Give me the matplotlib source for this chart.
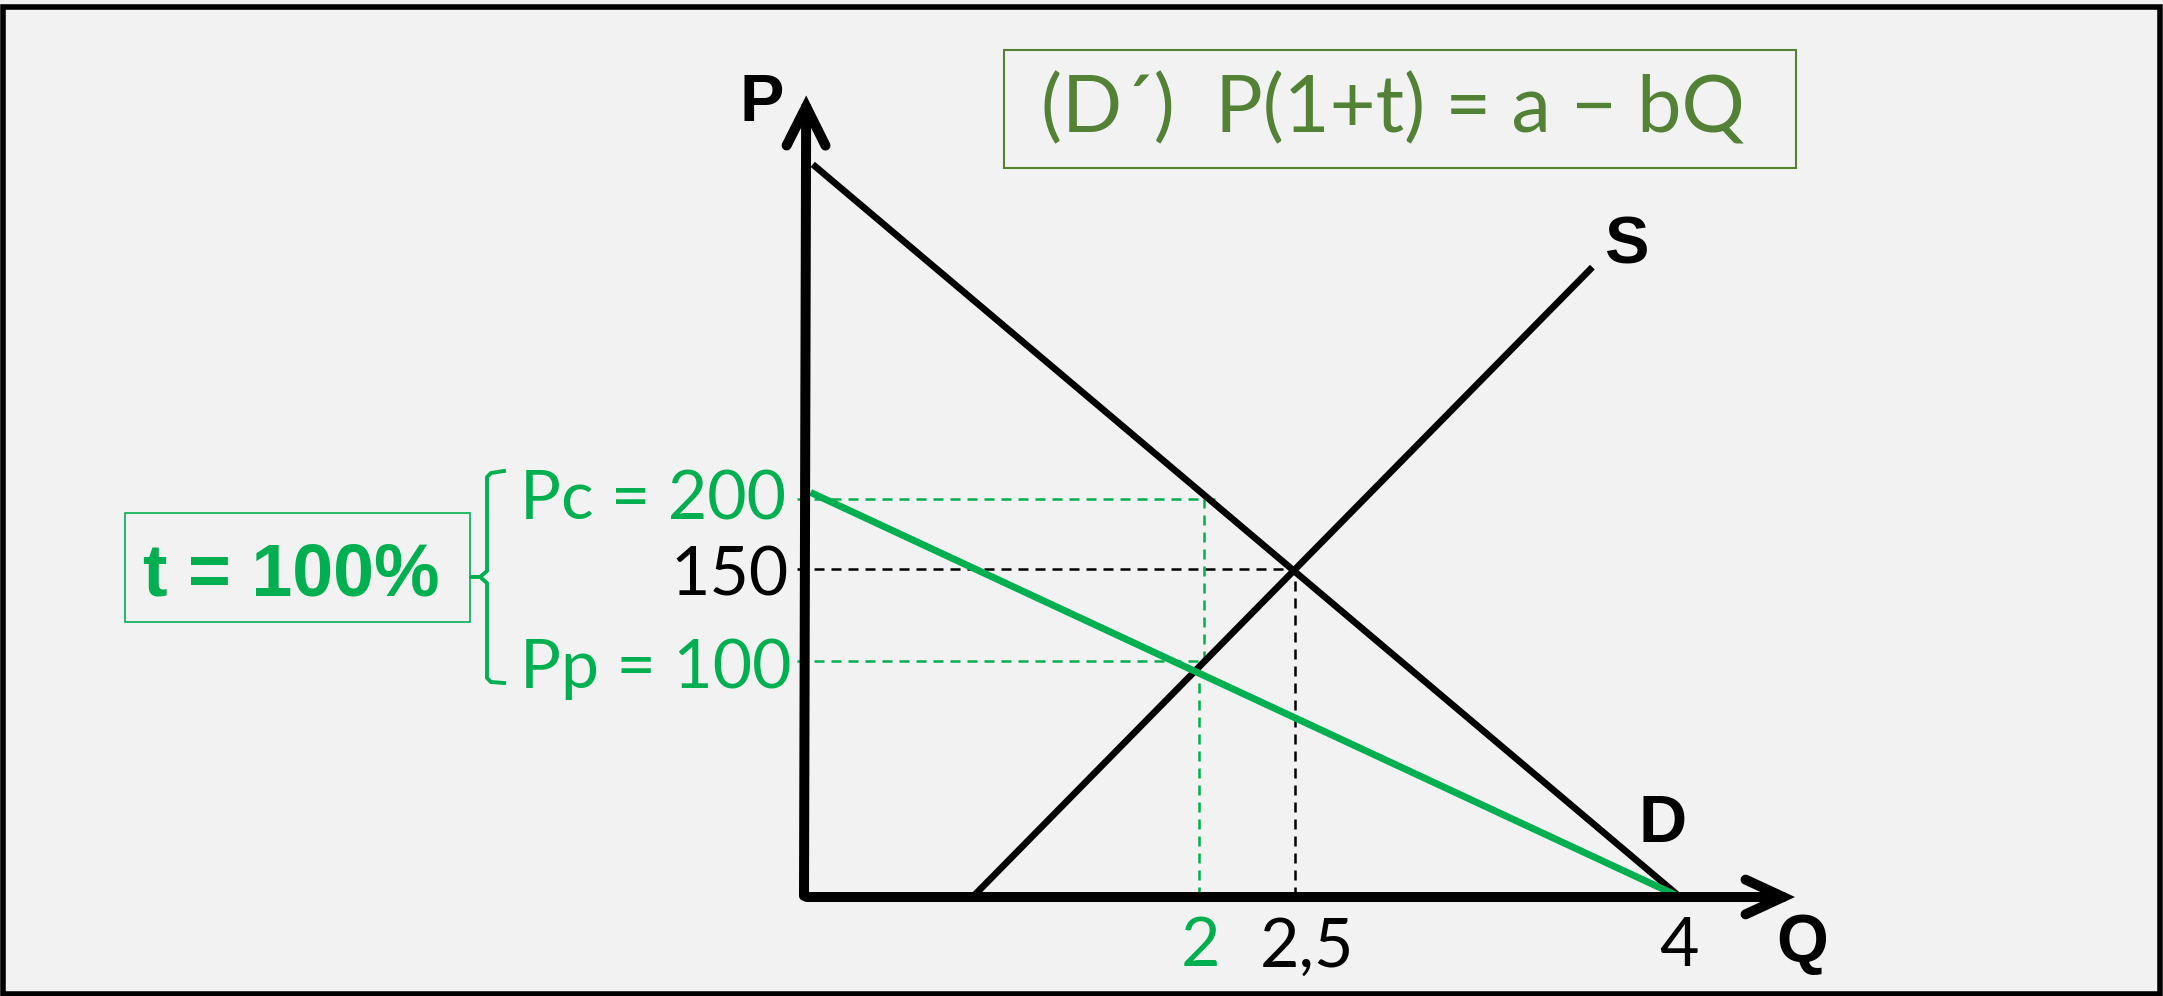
import matplotlib
matplotlib.use("Agg")
import matplotlib.pyplot as plt
from matplotlib.patches import Rectangle
from matplotlib.lines import Line2D

# ---------------- data (schematic diagram units: Q horizontally, P vertically) ----------------
demand_q = [0.04, 4.0]
demand_p = [335, 0]
supply_q = [0.77, 3.60]
supply_p = [0, 288]
taxed_demand_q = [0.03, 4.0]
taxed_demand_p = [185, 0]

price_labels = ["Pc = 200", "150", "Pp = 100"]
price_levels = [182, 150, 108]
price_dash_end_q = [1.88, 2.24, 1.84]

quantity_labels = ["2", "2,5", "4"]
quantity_levels = [1.81, 2.24, 4.0]

tax_q_upper = 1.826          # where Pc meets D
tax_q_lower = 1.805          # where D' meets S
tax_label = "t = 100%"
equation_label = "(D\u00b4)  P(1+t) = a \u2212 bQ"

# ---------------- style ----------------
GREEN = "#00B050"
OLIVE = "#538135"
BLACK = "black"
BG = "#F2F2F2"
W, H = 2163, 996

fig = plt.figure(figsize=(W / 100, H / 100), dpi=100, facecolor=BG)
ax = fig.add_axes([0, 0, 1, 1])
ax.set_facecolor(BG)
# axis origin placed at pixel (804, 897); 219 px per Q unit, 2.187 px per P unit
ax.set_xlim(-804 / 219, (W - 804) / 219)
ax.set_ylim(-(H - 897) / 2.187, 897 / 2.187)
ax.axis("off")


def fx(px):
    return px / W


def fy(py):
    return 1 - py / H


price_colors = [GREEN, BLACK, GREEN]
quantity_colors = [GREEN, BLACK, BLACK]
dash = (0, (4, 2.8))

# dashed guide lines
for lvl, qend, col in zip(price_levels, price_dash_end_q, price_colors):
    ax.plot([-0.03, qend], [lvl, lvl], color=col, lw=1.8, ls=dash, zorder=2)
ax.plot([tax_q_upper, tax_q_upper], [price_levels[2], price_levels[0]], color=GREEN, lw=1.8, ls=dash, zorder=2)
ax.plot([tax_q_lower, tax_q_lower], [0, price_levels[2]], color=GREEN, lw=1.8, ls=dash, zorder=2)
ax.plot([quantity_levels[1], quantity_levels[1]], [0, price_levels[1]], color=BLACK, lw=1.8, ls=dash, zorder=2)

# curves
ax.plot(demand_q, demand_p, color=BLACK, lw=4.8, solid_capstyle="butt", zorder=3)
ax.plot(supply_q, supply_p, color=BLACK, lw=4.8, solid_capstyle="butt", zorder=3)
ax.plot(taxed_demand_q, taxed_demand_p, color=GREEN, lw=5.0, solid_capstyle="butt", zorder=4)

# axes with open arrowheads
arrow_kw = dict(mutation_scale=1, lw=7.2, color=BLACK, shrinkA=0, shrinkB=0,
                capstyle="round", joinstyle="miter")
ax.annotate("", xy=(4.525, 0), xytext=(0.012, 0),
            arrowprops=dict(arrowstyle="->,head_length=27,head_width=12.5", **arrow_kw), zorder=5)
ax.annotate("", xy=(0.01, 366.5), xytext=(0.0, 0.5),
            arrowprops=dict(arrowstyle="->,head_length=28,head_width=14", **arrow_kw), zorder=5)

# axis / curve labels (bold)
bold = dict(family="Liberation Sans", fontweight="bold", fontsize=48, color=BLACK,
            ha="center", va="baseline")
fig.text(fx(762), fy(121), "P", **bold)
fig.text(fx(1626), fy(263), "S", **bold)
fig.text(fx(1663), fy(842), "D", **bold)
fig.text(fx(1802), fy(961), "Q", **bold)

# price labels on the vertical axis
for lab, lvl, col, xr, base in zip(price_labels, price_levels, price_colors,
                                   [786, 789, 791], [519, 595, 688]):
    fig.text(fx(xr), fy(base), lab, family="Lato", fontsize=49, color=col,
             ha="right", va="baseline")

# quantity labels on the horizontal axis
qoff = [0, 9, -1]
for lab, q, col, off in zip(quantity_labels, quantity_levels, quantity_colors, qoff):
    ax.annotate(lab, xy=(q, 0), xytext=(off, -50), textcoords="offset points",
                family="Lato", fontsize=49, color=col, ha="center", va="baseline")

# tax box
fig.text(fx(143), fy(595), tax_label, family="Liberation Sans", fontweight="bold",
         fontsize=53, color=GREEN, ha="left", va="baseline")
fig.add_artist(Rectangle((fx(125), fy(622)), fx(470) - fx(125), fy(513) - fy(622),
                         transform=fig.transFigure, fill=False, ec=GREEN, lw=1.2))

# brace
bx = [504, 491, 487, 487, 480, 471, 480, 487, 487, 491, 504]
by = [471, 473, 477, 571, 577, 577, 577, 583, 678, 682, 683]
fig.add_artist(Line2D([fx(v) for v in bx], [fy(v) for v in by], transform=fig.transFigure,
                      color=GREEN, lw=2.8, solid_joinstyle="round"))

# equation box
fig.text(fx(1393), fy(132), equation_label, family="Lato", fontsize=57, color=OLIVE,
         ha="center", va="baseline")
fig.add_artist(Rectangle((fx(1004), fy(168)), fx(1796) - fx(1004), fy(50) - fy(168),
                         transform=fig.transFigure, fill=False, ec=OLIVE, lw=1.5))

# outer frame
fig.add_artist(Rectangle((fx(3), fy(994)), fx(2160) - fx(3), fy(7) - fy(994),
                         transform=fig.transFigure, fill=False, ec=BLACK, lw=4.0))

fig.savefig("out.png", dpi=100, facecolor=BG)
